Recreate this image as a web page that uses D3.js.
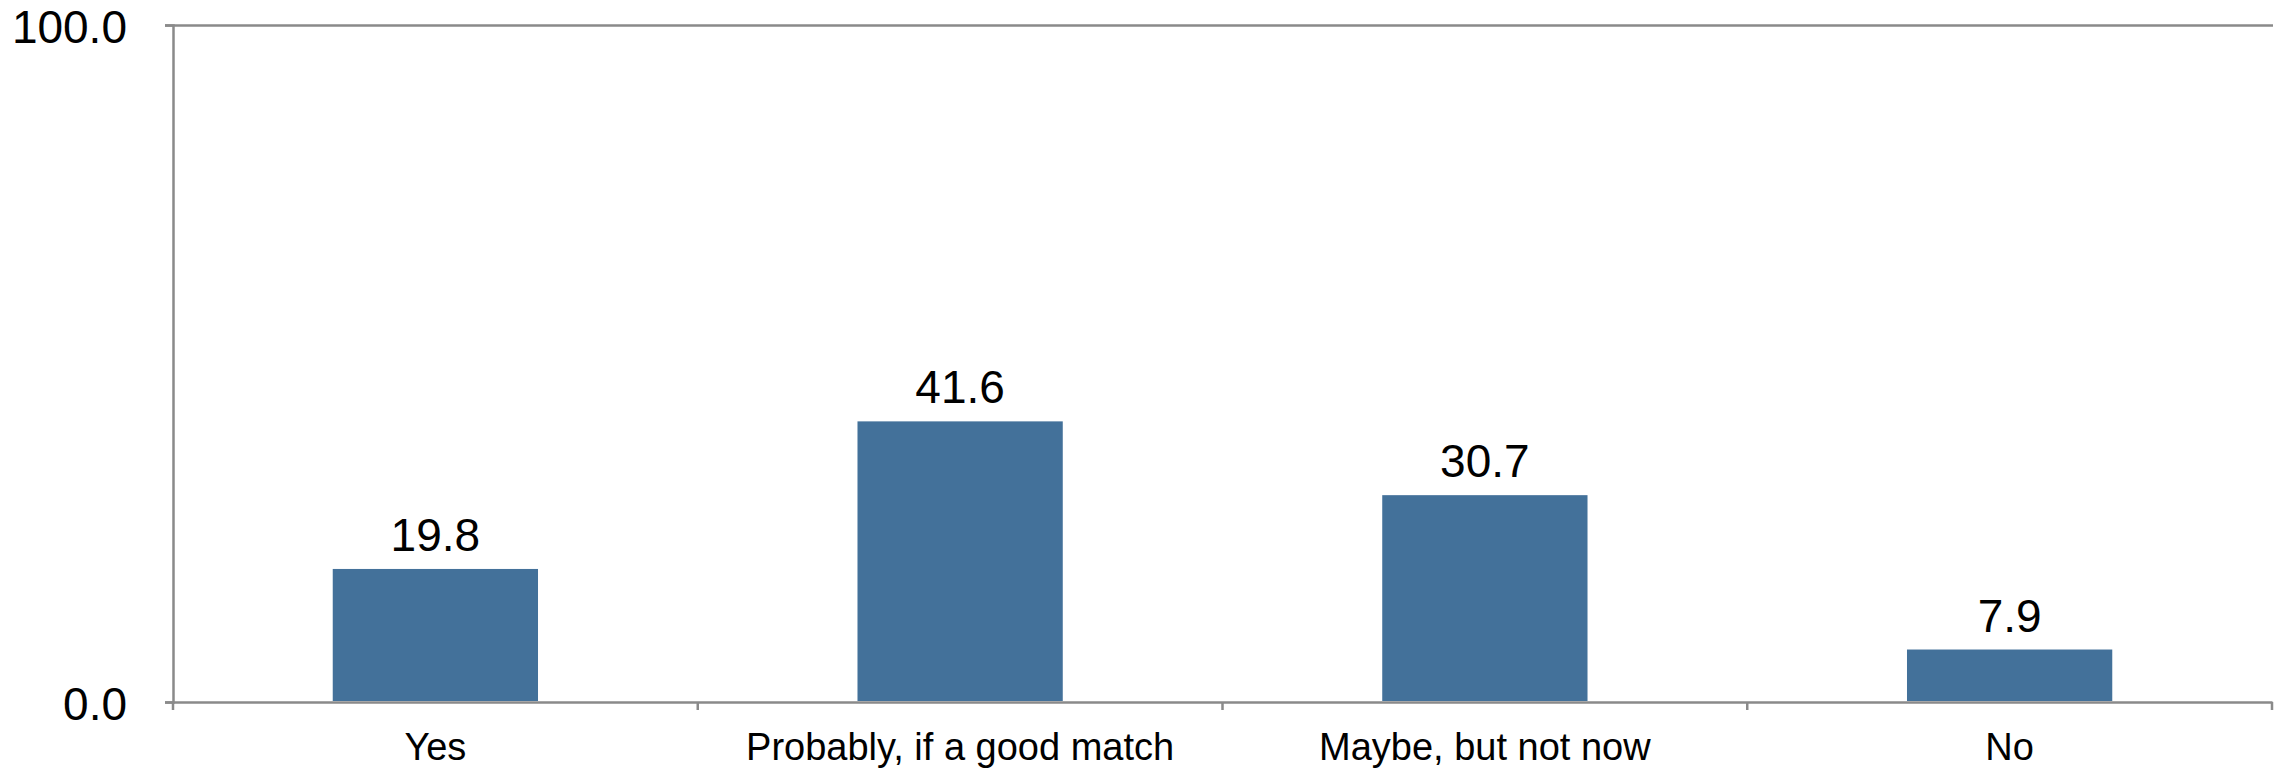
<!DOCTYPE html>
<html>
<head>
<meta charset="utf-8">
<script src="https://cdn.jsdelivr.net/npm/d3@7"></script>
<style>
  html, body { margin: 0; padding: 0; background: #fff; }
  svg { display: block; font-family: "Liberation Sans", Arial, Helvetica, sans-serif; }
</style>
</head>
<body>
<svg id="chart" width="2280" height="768"></svg>
<script>
// Survey answers and their shares (%)
const categories = ["Yes", "Probably, if a good match", "Maybe, but not now", "No"];
const values = [19.8, 41.6, 30.7, 7.9];
const yTicks = [0, 100];

const svg = d3.select("#chart");
const plotLeft = 173, plotRight = 2272, plotTop = 25, plotBottom = 702;
const axisColor = "#8a8a8a";

const x = d3.scaleBand()
  .domain(categories)
  .range([plotLeft, plotRight])
  .paddingInner(0.605)
  .paddingOuter(0.3025);

const y = d3.scaleLinear().domain([0, 100]).range([plotBottom, plotTop]);

// Bars
svg.append("g").selectAll("rect")
  .data(values)
  .join("rect")
  .attr("x", (d, i) => x(categories[i]))
  .attr("y", d => y(d))
  .attr("width", x.bandwidth())
  .attr("height", d => y(0) - y(d))
  .attr("fill", "#43719a")
  .attr("stroke", "#ffffff")
  .attr("stroke-width", 2);

// Value labels above bars
svg.append("g").selectAll("text")
  .data(values)
  .join("text")
  .attr("x", (d, i) => x(categories[i]) + x.bandwidth() / 2)
  .attr("y", d => y(d) - 17)
  .attr("text-anchor", "middle")
  .attr("font-size", 46)
  .attr("fill", "#000")
  .text(d => d.toFixed(1));

// Y axis with a reference line at the top value
const yAxis = svg.append("g")
  .attr("transform", `translate(${plotLeft},0)`)
  .call(d3.axisLeft(y).tickValues(yTicks).tickFormat(d3.format(".1f")).tickSize(8).tickPadding(38));
yAxis.select(".domain").attr("stroke", axisColor).attr("stroke-width", 2.5);
yAxis.selectAll(".tick line")
  .attr("stroke", axisColor).attr("stroke-width", 2.5)
  .attr("x1", -8)
  .attr("x2", d => d === 100 ? (plotRight - plotLeft + 1) : 0);
yAxis.selectAll(".tick text")
  .attr("font-size", 46).attr("fill", "#000")
  .attr("dy", "0.39em")
  .attr("font-family", "'Liberation Sans', Arial, sans-serif");

// X axis: category labels centred in their slots
const xAxis = svg.append("g")
  .attr("transform", `translate(0,${plotBottom})`)
  .call(d3.axisBottom(x).tickSize(0).tickPadding(31));
xAxis.select(".domain").attr("stroke", axisColor).attr("stroke-width", 2.5);
xAxis.selectAll(".tick text")
  .attr("font-size", 38).attr("fill", "#000")
  .attr("font-family", "'Liberation Sans', Arial, sans-serif");

// Slot boundary ticks below the x axis
const bounds = d3.range(categories.length + 1).map(i => x.range()[0] + i * x.step());
svg.append("g").selectAll("line")
  .data(bounds)
  .join("line")
  .attr("x1", d => d).attr("x2", d => d)
  .attr("y1", plotBottom).attr("y2", plotBottom + 8)
  .attr("stroke", axisColor)
  .attr("stroke-width", 2.5);
</script>
</body>
</html>
